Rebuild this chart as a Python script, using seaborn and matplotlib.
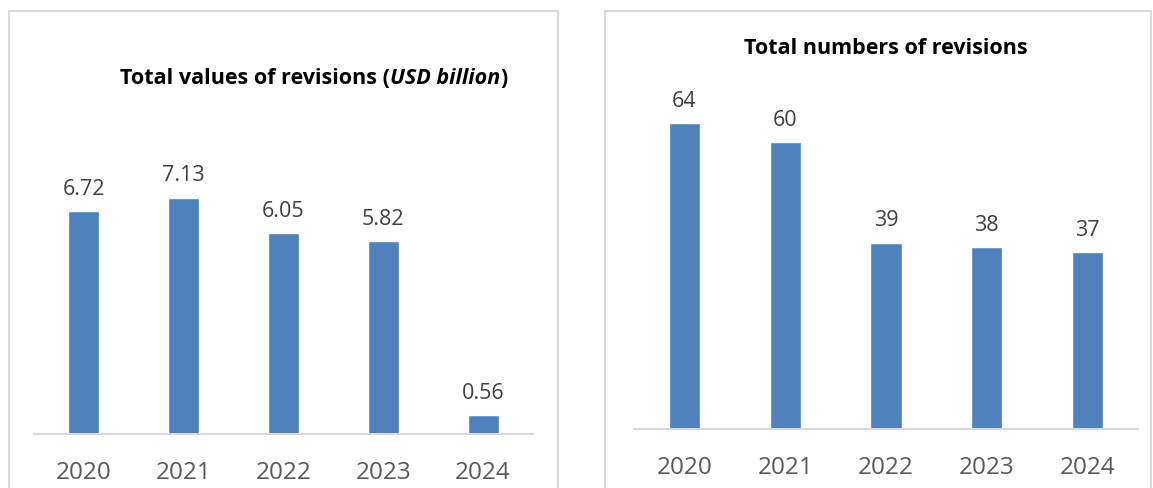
import matplotlib
matplotlib.use("Agg")
import matplotlib.pyplot as plt
import seaborn as sns
import pandas as pd
from matplotlib.patches import Rectangle

years = ["2020", "2021", "2022", "2023", "2024"]
values_usd_bn = [6.72, 7.13, 6.05, 5.82, 0.56]
value_labels = ["6.72", "7.13", "6.05", "5.82", "0.56"]
numbers = [64, 60, 39, 38, 37]
number_labels = ["64", "60", "39", "38", "37"]

sns.set_theme(style="white")
plt.rcParams["font.family"] = ["Open Sans", "DejaVu Sans"]

W, H = 1153, 489
fig = plt.figure(figsize=(W / 100, H / 100), dpi=100)
fig.patch.set_facecolor("white")

def px_rect(x0, y0, x1, y1):
    return [x0 / W, 1 - y1 / H, (x1 - x0) / W, (y1 - y0) / H]

# panel borders
for (x0, x1) in [(9, 558), (605, 1151)]:
    fig.patches.append(Rectangle((x0 / W, -0.05), (x1 - x0) / W, 1.05 - 12 / H,
                                 transform=fig.transFigure, fill=False,
                                 edgecolor="#D9D9D9", linewidth=1.5))

bar_color = "#4F81BD"
axis_color = "#D9D9D9"

def draw(ax, vals, labels, ymax, label_offset):
    df = pd.DataFrame({"year": years, "v": vals})
    sns.barplot(data=df, x="year", y="v", ax=ax, color=bar_color, width=0.31,
                saturation=1)
    ax.set_ylim(0, ymax)
    ax.set_xlim(-0.5, 4.5)
    ax.set_xlabel("")
    ax.set_ylabel("")
    ax.set_yticks([])
    for s in ["top", "left", "right"]:
        ax.spines[s].set_visible(False)
    ax.spines["bottom"].set_color(axis_color)
    ax.spines["bottom"].set_linewidth(1.5)
    ax.tick_params(axis="x", length=0, pad=18.5, labelsize=17.5, labelcolor="#595959")
    ax.set_facecolor("none")
    for i, (v, lab) in enumerate(zip(vals, labels)):
        ax.annotate(lab, (i, v), xytext=(0, label_offset), textcoords="offset points",
                    ha="center", va="bottom", fontsize=15.5, color="#404040")

ax1 = fig.add_axes(px_rect(34, 100, 533, 435))
draw(ax1, values_usd_bn, value_labels, 335 / 33.15, 9)

ax2 = fig.add_axes(px_rect(634, 100, 1138, 430))
draw(ax2, numbers, number_labels, 330 / 4.78, 9)

# left title with italic part, centred
TS = 15.5
fig.canvas.draw()
r = fig.canvas.get_renderer()
y1 = 1 - 78 / H
parts = [("Total values of revisions (", "normal"), ("USD billion", "italic"), (")", "normal")]
texts = []
for s, st in parts:
    t = fig.text(0, y1, s, ha="left", va="center", fontsize=TS, fontweight="bold",
                 fontstyle=st, color="black")
    texts.append(t)
widths = [t.get_window_extent(r).width for t in texts]
total = sum(widths)
xpix = 314 - total / 2
for t, w in zip(texts, widths):
    t.set_x(xpix / W)
    xpix += w

fig.text(886 / W, 1 - 48 / H, "Total numbers of revisions", ha="center", va="center",
         fontsize=TS, fontweight="bold", color="black")

fig.savefig("out.png", dpi=100, facecolor="white")
